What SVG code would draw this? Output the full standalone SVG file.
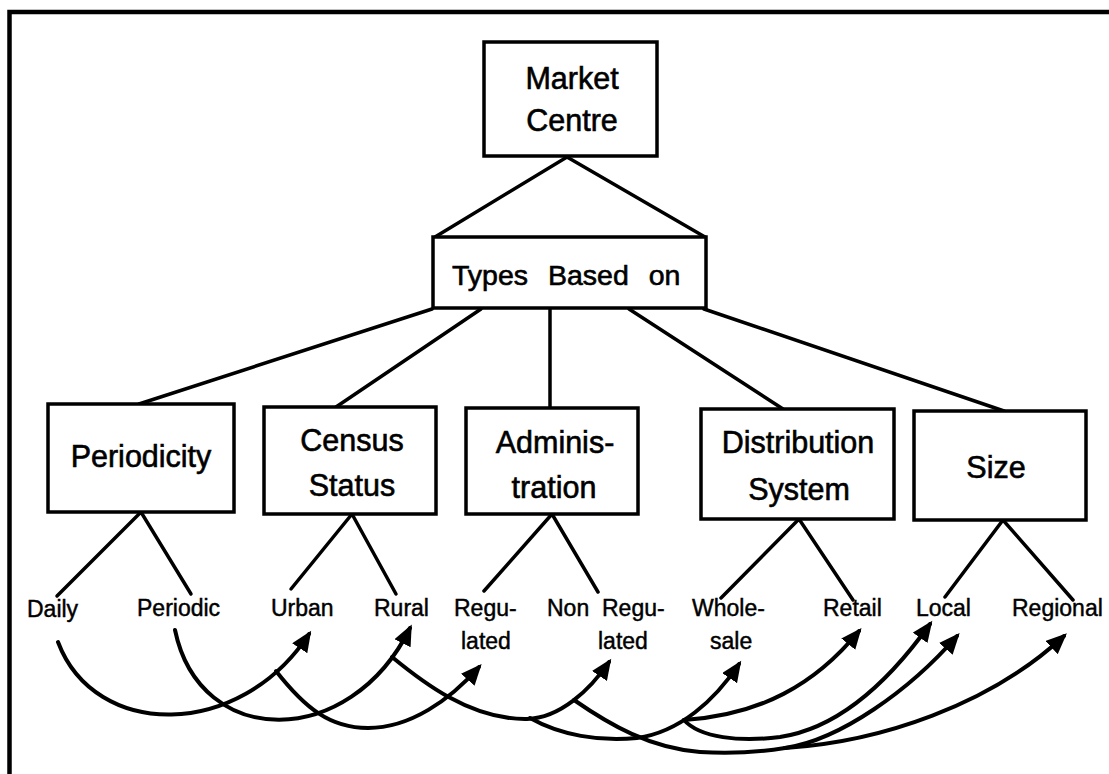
<svg xmlns="http://www.w3.org/2000/svg" width="1109" height="774" viewBox="0 0 1109 774">
  <defs>
    <style>
      .box { fill: #fff; stroke: #000; stroke-width: 3.5; }
      .tree { fill: none; stroke: #000; stroke-width: 3.5; stroke-linecap: round; }
      .flow { fill: none; stroke: #000; stroke-width: 4; stroke-linecap: round; }
      .frame { fill: none; stroke: #000; stroke-width: 4.5; }
      .lbl { font-family: "Liberation Sans", Arial, sans-serif; font-size: 30.5px; fill: #000; stroke: #000; stroke-width: 0.6; text-anchor: middle; }
      .leaf { font-family: "Liberation Sans", Arial, sans-serif; font-size: 23px; fill: #000; stroke: #000; stroke-width: 0.45; }
    </style>
    <marker id="arrow" markerUnits="userSpaceOnUse" markerWidth="24" markerHeight="20" refX="17" refY="9" orient="auto">
      <path d="M0,0 L21,9 L0,18 z" fill="#000"/>
    </marker>
  </defs>

  <rect width="1109" height="774" fill="#fff"/>

  <!-- page frame: top and left rules only -->
  <path class="frame" d="M9.5,774 L9.5,12 L1109,12"/>

  <!-- hierarchy connectors -->
  <g id="tree-lines">
    <path class="tree" d="M435,237 L567,157 L705,237"/>
    <path class="tree" d="M432,309 L139,404"/>
    <path class="tree" d="M481,309 L336,407"/>
    <path class="tree" d="M550,309 L550,408"/>
    <path class="tree" d="M629,309 L783,409"/>
    <path class="tree" d="M704,309 L1004,411"/>
    <path class="tree" d="M57,596 L141,512 L191,594"/>
    <path class="tree" d="M291,589 L352,514 L396,594"/>
    <path class="tree" d="M484,591 L552,514 L598,592"/>
    <path class="tree" d="M721,598 L799,519 L853,600"/>
    <path class="tree" d="M945,597 L1003,520 L1073,600"/>
  </g>

  <g id="market-centre">
    <rect class="box" x="484" y="42" width="173" height="114"/>
    <text class="lbl" x="572" y="89">Market</text>
    <text class="lbl" x="572" y="131">Centre</text>
  </g>

  <g id="types-based-on">
    <rect class="box" x="433" y="237" width="273" height="71"/>
    <text class="lbl" x="452" y="285" style="font-size:28.5px;text-anchor:start;word-spacing:12px">Types Based on</text>
  </g>

  <g id="periodicity">
    <rect class="box" x="48" y="404" width="186" height="108"/>
    <text class="lbl" x="141" y="467">Periodicity</text>
  </g>

  <g id="census-status">
    <rect class="box" x="264" y="407" width="172" height="107"/>
    <text class="lbl" x="352" y="451">Census</text>
    <text class="lbl" x="352" y="496">Status</text>
  </g>

  <g id="administration">
    <rect class="box" x="466" y="408" width="172" height="106"/>
    <text class="lbl" x="555" y="453">Adminis-</text>
    <text class="lbl" x="554" y="498">tration</text>
  </g>

  <g id="distribution-system">
    <rect class="box" x="701" y="409" width="193" height="110"/>
    <text class="lbl" x="798" y="453">Distribution</text>
    <text class="lbl" x="799" y="500">System</text>
  </g>

  <g id="size">
    <rect class="box" x="914" y="411" width="172" height="109"/>
    <text class="lbl" x="996" y="478">Size</text>
  </g>

  <g id="leaf-labels">
    <text class="leaf" x="27" y="617">Daily</text>
    <text class="leaf" x="137" y="616">Periodic</text>
    <text class="leaf" x="271" y="616">Urban</text>
    <text class="leaf" x="374" y="616">Rural</text>
    <text class="leaf" x="454" y="616">Regu-</text>
    <text class="leaf" x="461" y="649">lated</text>
    <text class="leaf" x="547" y="616">Non</text>
    <text class="leaf" x="602" y="616">Regu-</text>
    <text class="leaf" x="598" y="649">lated</text>
    <text class="leaf" x="692" y="616">Whole-</text>
    <text class="leaf" x="710" y="649">sale</text>
    <text class="leaf" x="823" y="616">Retail</text>
    <text class="leaf" x="916" y="616">Local</text>
    <text class="leaf" x="1012" y="616">Regional</text>
  </g>

  <!-- cross links between leaf categories -->
  <g id="links">
    <path class="flow" d="M58,642 C95,740 240,740 309,634" marker-end="url(#arrow)"/>
    <path class="flow" d="M276,671 C305,708 330,728 368,728 C410,728 450,700 479,667" marker-end="url(#arrow)"/>
    <path class="flow" d="M175,630 C200,750 350,750 410,628" marker-end="url(#arrow)"/>
    <path class="flow" d="M392,657 C420,680 470,720 527,719 C560,718 590,690 609,662" marker-end="url(#arrow)"/>
    <path class="flow" d="M530,718 C560,735 600,742 637,738 C680,732 715,700 739,664" marker-end="url(#arrow)"/>
    <path class="flow" d="M684,720 C760,715 815,685 859,631" marker-end="url(#arrow)"/>
    <path class="flow" d="M684,720 C700,738 740,742 780,737 C840,728 890,680 930,624" marker-end="url(#arrow)"/>
    <path class="flow" d="M574,700 C610,725 650,748 700,752 C730,754 760,752 785,748"/>
    <path class="flow" d="M785,748 C840,740 910,690 957,636" marker-end="url(#arrow)"/>
    <path class="flow" d="M785,748 C880,742 990,705 1064,636" marker-end="url(#arrow)"/>
  </g>
</svg>
